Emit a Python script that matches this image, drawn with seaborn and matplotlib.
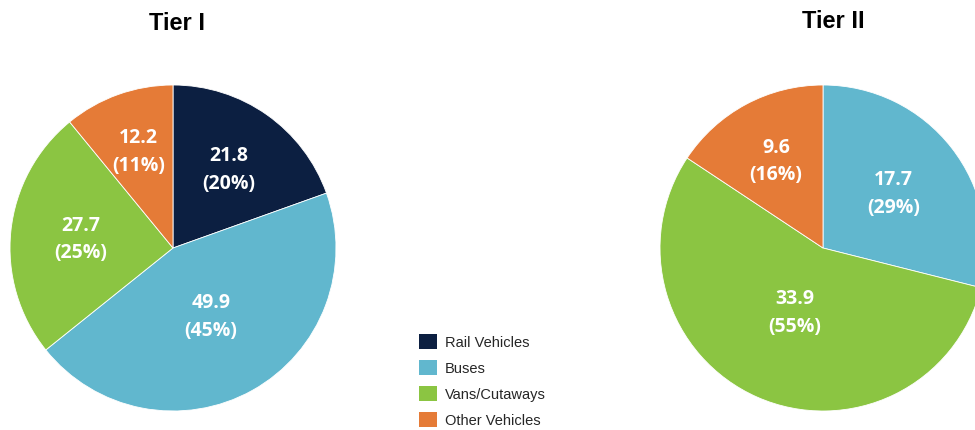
import numpy as np
import matplotlib.pyplot as plt
import seaborn as sns
from matplotlib.patches import Patch

# --- data ---
categories = ["Rail Vehicles", "Buses", "Vans/Cutaways", "Other Vehicles"]
tier1_values = [21.8, 49.9, 27.7, 12.2]
tier2_values = [0.0, 17.7, 33.9, 9.6]
titles = ["Tier I", "Tier II"]

colors = sns.color_palette(["#0c1f41", "#61b7ce", "#8bc542", "#e57b37"])

sns.set_theme(style="white")
plt.rcParams["font.family"] = ["Liberation Sans", "DejaVu Sans"]

fig = plt.figure(figsize=(9.75, 4.31), dpi=100)

# pie axes placed in figure pixels (centre x, centre y from top, radius)
W, H = 975, 431
R = 163
pies = [(173, 249), (823, 249)]


def draw_pie(ax, values):
    vals = np.array(values, dtype=float)
    keep = vals > 0
    wedges, _ = ax.pie(
        vals[keep],
        colors=[c for c, k in zip(colors, keep) if k],
        startangle=90,
        counterclock=False,
        radius=1,
        wedgeprops=dict(edgecolor="white", linewidth=0.6),
    )
    total = vals[keep].sum()
    for w, v in zip(wedges, vals[keep]):
        frac = v / total
        mid = np.deg2rad((w.theta1 + w.theta2) / 2)
        # bigger slices get their label pulled toward the centre
        r = 0.68 - 0.45 * frac
        ax.text(r * np.cos(mid), r * np.sin(mid),
                f"{v:.1f}\n({frac * 100:.0f}%)",
                ha="center", va="center", color="white",
                fontsize=14, fontweight="bold", family="Open Sans",
                linespacing=1.5)
    ax.set_xlim(-1, 1)
    ax.set_ylim(-1, 1)
    ax.set_aspect("equal")
    ax.axis("off")


for (cx, cy), vals in zip(pies, [tier1_values, tier2_values]):
    ax = fig.add_axes([(cx - R) / W, (H - cy - R) / H, 2 * R / W, 2 * R / H])
    draw_pie(ax, vals)

fig.text(177 / W, 1 - 24 / H, titles[0], ha="center", va="center",
         fontsize=17, fontweight="bold", color="black")
fig.text(833 / W, 1 - 21 / H, titles[1], ha="center", va="center",
         fontsize=17, fontweight="bold", color="black")

handles = [Patch(facecolor=c, edgecolor="none") for c in colors]
fig.legend(handles, categories, loc="center left",
           bbox_to_anchor=(419 / W, (H - 381.5) / H),
           frameon=False, fontsize=10.5, handlelength=1.25, handleheight=1.25,
           handletextpad=0.55, labelspacing=0.72, borderpad=0, borderaxespad=0)

fig.savefig("out.png", dpi=100)
